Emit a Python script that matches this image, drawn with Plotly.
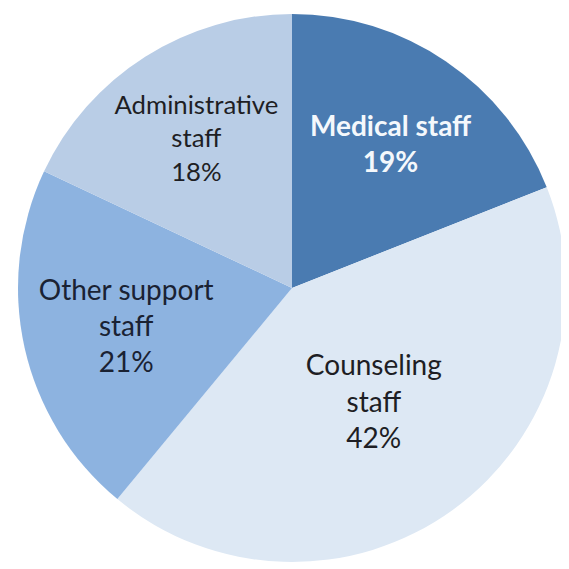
import plotly.graph_objects as go

labels = ["Medical staff", "Counseling staff", "Other support staff", "Administrative staff"]
display_labels = ["<b>Medical staff</b>", "Counseling<br>staff", "Other support<br>staff", "Administrative<br>staff"]
values = [19, 42, 21, 18]
colors = ["#4a7bb1", "#dde8f4", "#8db3e0", "#b9cde6"]
text_colors = ["#f4f8fc", "#1e1e24", "#1a2233", "#1e1e24"]

texts = []
for d, v in zip(display_labels, values):
    if d.startswith("<b>"):
        texts.append(f"{d}<br><b>{v}%</b>")
    else:
        texts.append(f"{d}<br>{v}%")

fig = go.Figure(go.Pie(
    labels=labels,
    values=values,
    text=texts,
    textinfo="text",
    sort=False,
    direction="clockwise",
    rotation=0,
    marker=dict(colors=colors, line=dict(width=0)),
    textposition="inside",
    insidetextorientation="horizontal",
    insidetextfont=dict(family="Lato", size=28, color=text_colors),
    hoverinfo="label+percent",
    showlegend=False,
))

fig.update_layout(
    width=561, height=561,
    margin=dict(l=10, r=3, t=6, b=7),
    paper_bgcolor="white",
    plot_bgcolor="white",
    showlegend=False,
)

fig.write_html("out.html")
